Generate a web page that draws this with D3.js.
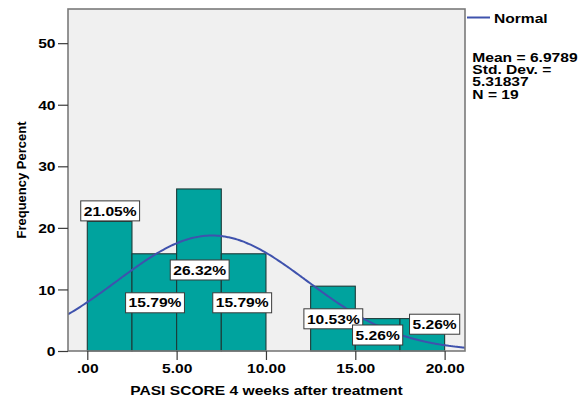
<!DOCTYPE html>
<html>
<head>
<meta charset="utf-8">
<script src="https://cdn.jsdelivr.net/npm/d3@7"></script>
<style>
  html, body { margin: 0; padding: 0; background: #ffffff; }
  svg { display: block; }
  text { font-family: "Liberation Sans", Arial, sans-serif; font-weight: bold; font-size: 13px; fill: #000; }
</style>
</head>
<body>
<svg id="chart" width="586" height="400"></svg>
<script>
// Histogram bins (lower edges) and their share of cases, in percent
const binStarts = [0, 2.5, 5, 7.5, 10, 12.5, 15, 17.5];
const binWidth = 2.5;
const percents = [21.05, 15.79, 26.32, 15.79, 0, 10.53, 5.26, 5.26];

// Where each percent label sits, in data units [x centre, y centre]
const labelSpots = [[1.28, 22.76], [3.79, 7.83], [6.29, 13.16], [8.67, 7.83],
                    null, [13.77, 5.23], [16.25, 2.6], [19.44, 4.35]];

// Axis ticks
const xTicks = [0, 5, 10, 15, 20];
const xTickLabels = [".00", "5.00", "10.00", "15.00", "20.00"];
const yTicks = [0, 10, 20, 30, 40, 50];

// Fitted normal curve parameters
const statMean = 6.9789;
const statSd = 5.31837;
const statN = 19;
const statLines = ["Mean = 6.9789", "Std. Dev. =", "5.31837", "N = 19"];

const xTitle = "PASI SCORE 4 weeks after treatment";
const yTitle = "Frequency Percent";
const legendLabel = "Normal";

const SX = 1.2; // horizontal widening of the lettering

const svg = d3.select("#chart");
const x = d3.scaleLinear().domain([-1.08, 21.14]).range([68, 465]);
const y = d3.scaleLinear().domain([0, 55.55]).range([351, 9]);

const [x0, x1] = x.range();
const [yb, yt] = y.range();

// plot background
svg.append("rect").attr("x", x0).attr("y", yt)
  .attr("width", x1 - x0).attr("height", yb - yt).attr("fill", "#f0f0f0");

svg.append("clipPath").attr("id", "plotclip").append("rect")
  .attr("x", x0).attr("y", yt).attr("width", x1 - x0).attr("height", yb - yt);

// bars
svg.append("g").selectAll("rect")
  .data(binStarts.map((s, i) => ({ s, v: percents[i] })).filter(d => d.v > 0))
  .join("rect")
  .attr("x", d => x(d.s))
  .attr("width", d => x(d.s + binWidth) - x(d.s))
  .attr("y", d => y(d.v))
  .attr("height", d => y(0) - y(d.v))
  .attr("fill", "#00a39e")
  .attr("stroke", "#1c3a38")
  .attr("stroke-width", 1.1);

// normal curve scaled to percent per bin
const pdf = v => Math.exp(-0.5 * ((v - statMean) / statSd) ** 2) / (statSd * Math.sqrt(2 * Math.PI));
const [d0, d1] = x.domain();
const curvePts = d3.range(0, 201).map(i => d0 + (d1 - d0) * i / 200)
  .map(v => [v, 100 * binWidth * pdf(v)]);
svg.append("path")
  .attr("clip-path", "url(#plotclip)")
  .attr("d", d3.line().x(d => x(d[0])).y(d => y(d[1])).curve(d3.curveBasis)(curvePts))
  .attr("fill", "none").attr("stroke", "#3f52ad").attr("stroke-width", 2);

// value labels
const fmt = d3.format(".2f");
percents.forEach((v, i) => {
  const spot = labelSpots[i];
  if (!spot || v <= 0) return;
  const g = svg.append("g").attr("transform", `translate(${x(spot[0])},${y(spot[1])})`);
  const rect = g.append("rect");
  const t = g.append("text")
    .attr("transform", `translate(0,4.7) scale(${SX},1)`)
    .attr("text-anchor", "middle")
    .text(fmt(v) + "%");
  const w = t.node().getComputedTextLength() * SX;
  rect.attr("x", -w / 2 - 3).attr("y", -10).attr("width", w + 6).attr("height", 20)
    .attr("fill", "#ffffff").attr("stroke", "#3a3a3a").attr("stroke-width", 1);
});

// frame
svg.append("rect").attr("x", x0).attr("y", yt)
  .attr("width", x1 - x0).attr("height", yb - yt)
  .attr("fill", "none").attr("stroke", "#7a7a7a").attr("stroke-width", 1.6);

// axes
const yAxis = svg.append("g").attr("transform", `translate(${x0},0)`)
  .call(d3.axisLeft(y).tickValues(yTicks).tickSize(10).tickFormat(d3.format("d")));
yAxis.select(".domain").remove();
yAxis.selectAll(".tick line").attr("stroke", "#3a3a3a").attr("stroke-width", 1.2);
yAxis.selectAll(".tick text")
  .attr("x", -12.5 / SX).attr("dy", "0.36em")
  .attr("transform", `scale(${SX},1)`)
  .attr("font-size", null).attr("font-family", null);

const xAxis = svg.append("g").attr("transform", `translate(0,${yb})`)
  .call(d3.axisBottom(x).tickValues(xTicks).tickSize(9).tickFormat((d, i) => xTickLabels[i]));
xAxis.select(".domain").remove();
xAxis.selectAll(".tick line").attr("stroke", "#3a3a3a").attr("stroke-width", 1.2);
xAxis.selectAll(".tick text")
  .attr("y", 22.5).attr("dy", null)
  .attr("transform", `scale(${SX},1)`)
  .attr("font-size", null).attr("font-family", null);

// axis titles
svg.append("text")
  .attr("transform", `translate(${(x0 + x1) / 2},395) scale(${SX},1)`)
  .attr("text-anchor", "middle").text(xTitle);
svg.append("text")
  .attr("transform", `translate(25.5,${(yt + yb) / 2}) rotate(-90)`)
  .attr("text-anchor", "middle").text(yTitle);

// legend
svg.append("line").attr("x1", 467).attr("x2", 490).attr("y1", 17.5).attr("y2", 17.5)
  .attr("stroke", "#3f52ad").attr("stroke-width", 2);
svg.append("text")
  .attr("transform", `translate(494,23.3) scale(${SX},1)`)
  .text(legendLabel);
statLines.forEach((s, i) => {
  svg.append("text")
    .attr("transform", `translate(472.3,${61.7 + i * 12.3}) scale(${SX},1)`)
    .text(s);
});
</script>
</body>
</html>
